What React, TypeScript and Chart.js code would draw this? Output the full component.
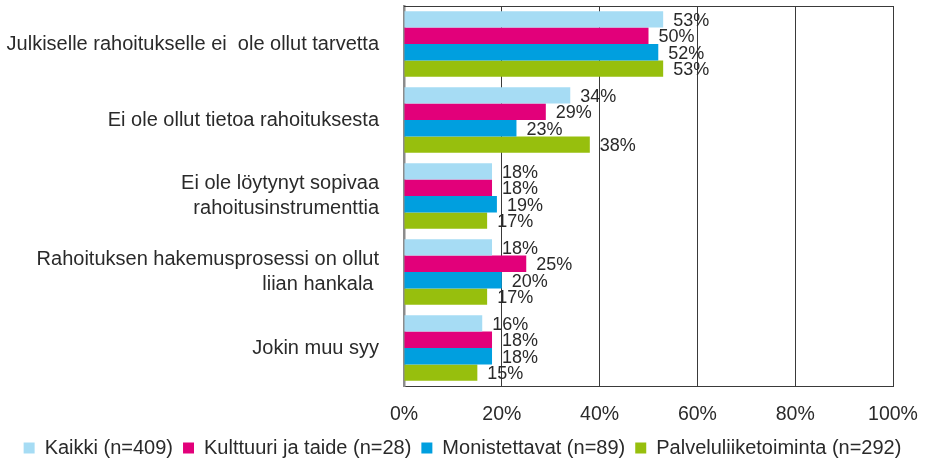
import React, { useEffect, useRef } from "react";
import { Chart, registerables } from "chart.js";

Chart.register(...registerables);

const categories: (string | string[])[] = [
  "Julkiselle rahoitukselle ei  ole ollut tarvetta",
  "Ei ole ollut tietoa rahoituksesta",
  ["Ei ole löytynyt sopivaa", "rahoitusinstrumenttia"],
  ["Rahoituksen hakemusprosessi on ollut", "liian hankala "],
  "Jokin muu syy",
];

const seriesNames = [
  "Kaikki (n=409)",
  "Kulttuuri ja taide (n=28)",
  "Monistettavat (n=89)",
  "Palveluliiketoiminta (n=292)",
];

const kaikki = [53, 34, 18, 18, 16];
const kulttuuri = [50, 29, 18, 25, 18];
const monistettavat = [52, 23, 19, 20, 18];
const palvelu = [53, 38, 17, 17, 15];

const seriesColors = ["#a6dcf4", "#e2007a", "#009fdf", "#97bf0d"];

const xTicks = [0, 20, 40, 60, 80, 100];

const FONT = "'Liberation Sans', Arial, Helvetica, sans-serif";

const valueLabels = {
  id: "valueLabels",
  afterDatasetsDraw(chart: any) {
    const ctx = chart.ctx;
    ctx.save();
    ctx.font = `18px ${FONT}`;
    ctx.fillStyle = "#2a2a2a";
    ctx.textAlign = "left";
    ctx.textBaseline = "middle";
    chart.data.datasets.forEach((ds: any, i: number) => {
      const meta = chart.getDatasetMeta(i);
      meta.data.forEach((el: any, j: number) => {
        ctx.fillText(`${ds.data[j]}%`, el.x + 10, el.y + 1.5);
      });
    });
    ctx.restore();
  },
};

const frameTop = {
  id: "frameTop",
  afterDraw(chart: any) {
    const { ctx, chartArea } = chart;
    ctx.save();
    ctx.strokeStyle = "#3a3a3a";
    ctx.lineWidth = 1;
    ctx.beginPath();
    ctx.moveTo(chartArea.left, chartArea.top + 0.5);
    ctx.lineTo(chartArea.right, chartArea.top + 0.5);
    ctx.stroke();
    ctx.restore();
  },
};

const noPad = (scale: any) => {
  scale.paddingTop = 0;
  scale.paddingBottom = 0;
  scale.paddingLeft = 0;
  scale.paddingRight = 0;
};

export default function App() {
  const ref = useRef<HTMLCanvasElement>(null);

  useEffect(() => {
    if (!ref.current) return;
    const seriesData = [kaikki, kulttuuri, monistettavat, palvelu];
    const chart = new Chart(ref.current, {
      type: "bar",
      data: {
        labels: categories,
        datasets: seriesData.map((d, i) => ({
          label: seriesNames[i],
          data: d,
          backgroundColor: seriesColors[i],
          borderWidth: 0,
          categoryPercentage: 0.865,
          barPercentage: 1,
        })),
      },
      options: {
        indexAxis: "y",
        responsive: false,
        animation: false,
        layout: { padding: { left: 0, right: 0, top: 6, bottom: -6 } },
        scales: {
          x: {
            min: 0,
            max: 100,
            afterBuildTicks: (scale: any) => {
              scale.ticks = xTicks.map((v) => ({ value: v }));
            },
            afterFit: (scale: any) => {
              scale.height = 42;
              noPad(scale);
            },
            ticks: {
              callback: (v: any) => `${v}%`,
              font: { family: FONT, size: 19.5 },
              color: "#2a2a2a",
              padding: 17,
              maxRotation: 0,
            },
            grid: {
              drawTicks: false,
              color: (c: any) => (c.tick && c.tick.value === 0 ? "rgba(0,0,0,0)" : "#3a3a3a"),
              lineWidth: 1,
            },
            border: { display: true, color: "#3a3a3a", width: 1 },
          },
          y: {
            afterFit: (scale: any) => {
              scale.width = 404;
              noPad(scale);
            },
            ticks: {
              font: { family: FONT, size: 20, lineHeight: 1.25 },
              color: "#2a2a2a",
              padding: 25,
            },
            grid: { display: false, drawTicks: false },
            border: { display: true, color: "#8c8c8c", width: 2.5 },
          },
          yRight: {
            type: "category",
            position: "right",
            labels: categories,
            afterFit: (scale: any) => {
              scale.width = 32;
              noPad(scale);
            },
            ticks: { display: false },
            grid: { display: false, drawTicks: false },
            border: { display: false },
          },
        },
        plugins: {
          legend: {
            position: "bottom",
            labels: {
              font: { family: FONT, size: 20, lineHeight: 1 },
              color: "#2a2a2a",
              boxWidth: 11,
              boxHeight: 11,
              padding: 10,
            },
          },
          tooltip: { enabled: false },
        },
      },
      plugins: [valueLabels, frameTop],
    });
    return () => chart.destroy();
  }, []);

  return (
    <div style={{ position: "absolute", left: 0, top: 0, width: 925, height: 462, background: "#fff" }}>
      <canvas ref={ref} width={925} height={462} />
    </div>
  );
}
